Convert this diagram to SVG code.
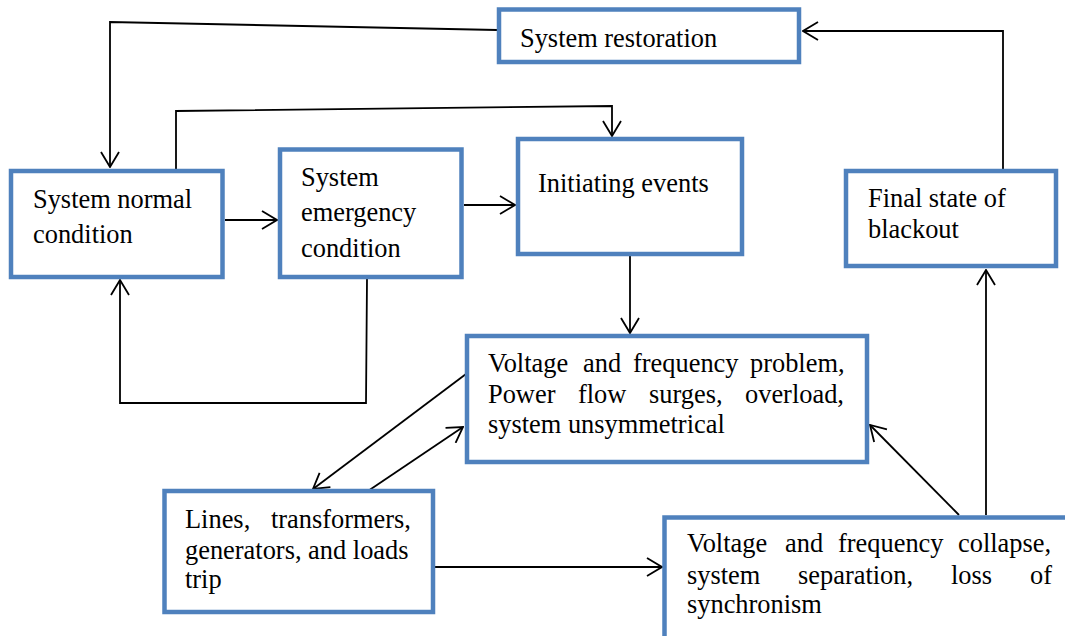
<svg xmlns="http://www.w3.org/2000/svg" width="1065" height="636" viewBox="0 0 1065 636">
<style>
.box{fill:#fff;stroke:#4F81BD;stroke-width:4.5}
.t{font-family:"Liberation Serif","Times New Roman",serif;font-size:26.4px;fill:#000}
.c{fill:none;stroke:#000;stroke-width:1.8}
</style>
<defs>
<marker id="a" markerUnits="userSpaceOnUse" viewBox="0 0 17 20" refX="16" refY="10" markerWidth="17" markerHeight="20" orient="auto">
<path d="M1,1 L16,10 L1,19" fill="none" stroke="#000" stroke-width="1.8"/>
</marker>
</defs>
<rect width="1065" height="636" fill="#fff"/>
<g id="connectors">
<polyline class="c" points="497,30 110,22 110,167" marker-end="url(#a)"/>
<polyline class="c" points="176,169 176,111 612,106 612,136" marker-end="url(#a)"/>
<line class="c" x1="225" y1="220" x2="277" y2="220" marker-end="url(#a)"/>
<line class="c" x1="464" y1="205" x2="515" y2="205" marker-end="url(#a)"/>
<polyline class="c" points="367,279 366,403 120,403 120,280" marker-end="url(#a)"/>
<line class="c" x1="630" y1="256" x2="630" y2="333" marker-end="url(#a)"/>
<line class="c" x1="466" y1="374" x2="313" y2="489" marker-end="url(#a)"/>
<line class="c" x1="368" y1="491" x2="463" y2="427" marker-end="url(#a)"/>
<line class="c" x1="435" y1="567" x2="662" y2="567" marker-end="url(#a)"/>
<line class="c" x1="959" y1="515" x2="870" y2="425" marker-end="url(#a)"/>
<line class="c" x1="986" y1="515" x2="986" y2="270" marker-end="url(#a)"/>
<polyline class="c" points="1003,169 1003,31 803,31" marker-end="url(#a)"/>
</g>
<g id="restoration">
<rect class="box" x="499" y="9.5" width="300" height="52.5"/>
<text class="t" x="520" y="47">System restoration</text>
</g>
<g id="normal">
<rect class="box" x="11" y="171" width="211.5" height="106"/>
<text class="t" x="33" y="208">System normal</text>
<text class="t" x="33" y="243">condition</text>
</g>
<g id="emergency">
<rect class="box" x="280" y="149.5" width="181.5" height="127.5"/>
<text class="t" x="301" y="186">System</text>
<text class="t" x="301" y="221">emergency</text>
<text class="t" x="301" y="257">condition</text>
</g>
<g id="initiating">
<rect class="box" x="518" y="139" width="224" height="115"/>
<text class="t" x="538" y="192">Initiating events</text>
</g>
<g id="final">
<rect class="box" x="846" y="171" width="210" height="95"/>
<text class="t" x="868" y="207">Final state of</text>
<text class="t" x="868" y="238">blackout</text>
</g>
<g id="problem">
<rect class="box" x="467" y="336" width="400" height="126"/>
<text class="t" y="372"><tspan x="488">Voltage</tspan><tspan x="583">and</tspan><tspan x="633">frequency</tspan><tspan x="750">problem,</tspan></text>
<text class="t" y="403"><tspan x="488">Power</tspan><tspan x="578">flow</tspan><tspan x="649">surges,</tspan><tspan x="745">overload,</tspan></text>
<text class="t" x="488" y="433">system unsymmetrical</text>
</g>
<g id="trip">
<rect class="box" x="164.5" y="491" width="268.5" height="121"/>
<text class="t" y="528"><tspan x="185">Lines,</tspan><tspan x="271">transformers,</tspan></text>
<text class="t" x="185" y="559">generators, and loads</text>
<text class="t" x="185" y="588">trip</text>
</g>
<g id="collapse">
<rect class="box" x="664.5" y="517.5" width="410" height="130"/>
<text class="t" y="552"><tspan x="687">Voltage</tspan><tspan x="785">and</tspan><tspan x="838">frequency</tspan><tspan x="958">collapse,</tspan></text>
<text class="t" y="584"><tspan x="687">system</tspan><tspan x="798">separation,</tspan><tspan x="951">loss</tspan><tspan x="1030">of</tspan></text>
<text class="t" x="687" y="613">synchronism</text>
</g>
</svg>
